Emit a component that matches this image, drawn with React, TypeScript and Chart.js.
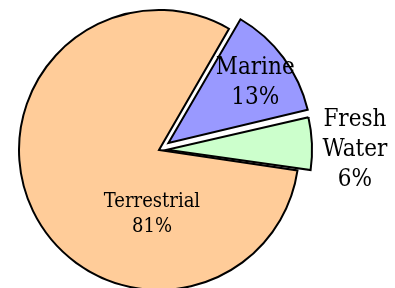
import React, { useEffect, useRef } from "react";
import { Chart, registerables } from "chart.js";

Chart.register(...registerables);

const categories = ["Marine", "Fresh Water", "Terrestrial"];
const values = [13, 6, 81];
const labelLines = [["Marine", "13%"], ["Fresh", "Water", "6%"], ["Terrestrial", "81%"]];
const colors = ["#9999ff", "#ccffcc", "#ffcc99"];
const offsets = [47, 32, 0];

// label placement: angle (deg clockwise from top), distance from pie centre, font size, line height
const labelPlacement = [
  { angle: 57.6, dist: 114, size: 24, lh: 30 },
  { angle: 91.75, dist: 196, size: 24, lh: 30 },
  { angle: 185.75, dist: 70, size: 20, lh: 25 },
];

const FONT = "'DejaVu Serif Condensed', 'DejaVu Serif', serif";

const labelPlugin = {
  id: "sliceLabels",
  afterDatasetsDraw(chart: any) {
    const ctx = chart.ctx as CanvasRenderingContext2D;
    const meta = chart.getDatasetMeta(0);
    const arc0 = meta.data[0];
    if (!arc0) return;
    const cx = arc0.x;
    const cy = arc0.y;
    ctx.save();
    try {
      (ctx as any).fontStretch = "condensed";
    } catch (e) {}
    ctx.fillStyle = "#000";
    ctx.textAlign = "center";
    ctx.textBaseline = "alphabetic";
    labelLines.forEach((lines, i) => {
      const p = labelPlacement[i];
      const a = (p.angle * Math.PI) / 180;
      const x = cx + Math.sin(a) * p.dist;
      const y = cy - Math.cos(a) * p.dist;
      ctx.font = `${p.size}px ${FONT}`;
      const n = lines.length;
      lines.forEach((t, j) => {
        ctx.fillText(t, x, y + (j - (n - 1) / 2) * p.lh);
      });
    });
    ctx.restore();
  },
};

export default function App() {
  const ref = useRef<HTMLCanvasElement>(null);
  useEffect(() => {
    if (!ref.current) return;
    const chart = new Chart(ref.current, {
      type: "pie",
      data: {
        labels: categories,
        datasets: [
          {
            data: values,
            backgroundColor: colors,
            borderColor: "#000",
            borderWidth: 2,
            borderJoinStyle: "miter",
            offset: offsets,
          } as any,
        ],
      },
      options: {
        responsive: false,
        animation: false,
        rotation: 30,
        radius: 140,
        layout: { padding: { left: 0, right: 77, top: 12, bottom: 0 } },
        plugins: {
          legend: { display: false },
          tooltip: { enabled: false },
        },
      } as any,
      plugins: [labelPlugin],
    });
    return () => chart.destroy();
  }, []);
  return (
    <div style={{ position: "fixed", left: 0, top: 0, width: 395, height: 288, background: "#fff" }}>
      <canvas ref={ref} width={395} height={288} />
    </div>
  );
}
